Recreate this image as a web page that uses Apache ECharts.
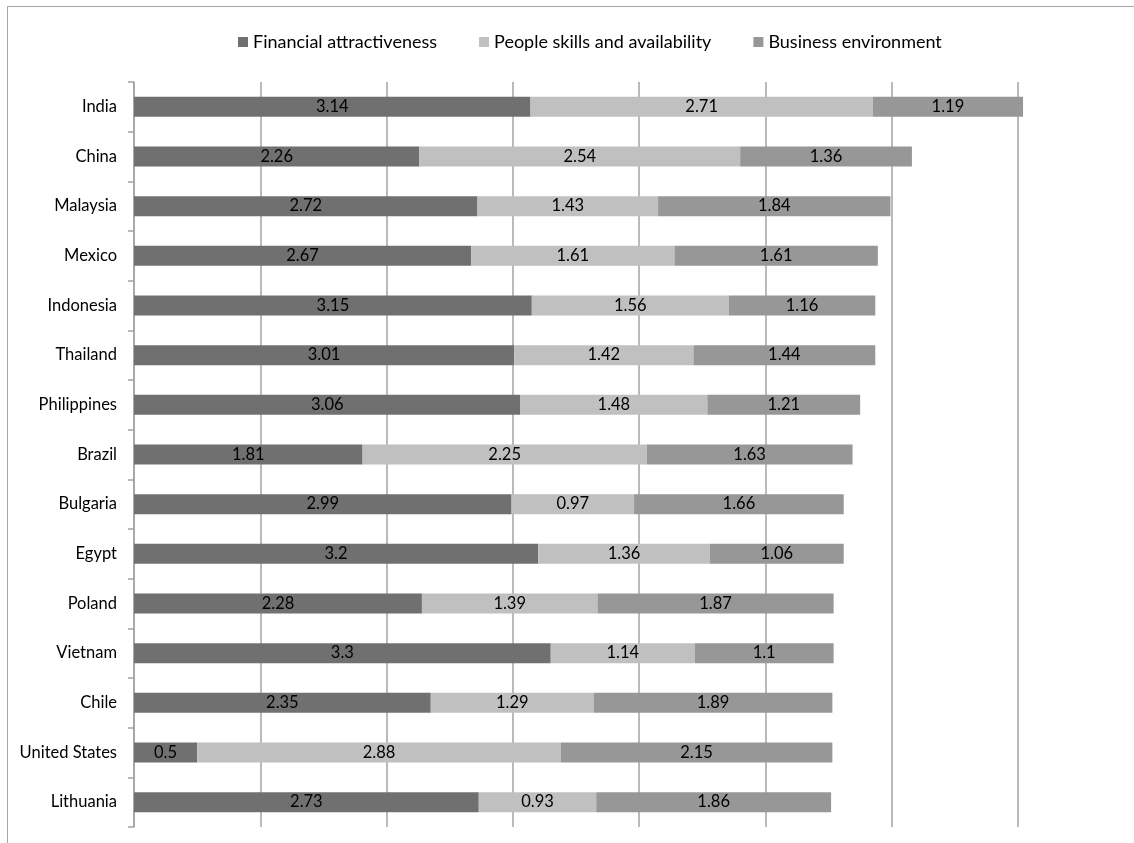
<!DOCTYPE html>
<html>
<head>
<meta charset="utf-8">
<script src="https://cdn.jsdelivr.net/npm/echarts@6/dist/echarts.min.js"></script>
<style>
  html,body{margin:0;padding:0;background:#fff;overflow:hidden;}
  #frame{position:absolute;left:7px;top:6px;width:1200px;height:900px;border-top:1px solid #a6a6a6;border-left:1px solid #a6a6a6;}
  #chart{position:absolute;left:0;top:0;width:1134px;height:843px;}
</style>
</head>
<body>
<div id="frame"></div>
<div id="chart"></div>
<script>
/* ---------- data ---------- */
const countries = ['India','China','Malaysia','Mexico','Indonesia','Thailand','Philippines','Brazil','Bulgaria','Egypt','Poland','Vietnam','Chile','United States','Lithuania'];
const financial = [3.14,2.26,2.72,2.67,3.15,3.01,3.06,1.81,2.99,3.2,2.28,3.3,2.35,0.5,2.73];
const people    = [2.71,2.54,1.43,1.61,1.56,1.42,1.48,2.25,0.97,1.36,1.39,1.14,1.29,2.88,0.93];
const business  = [1.19,1.36,1.84,1.61,1.16,1.44,1.21,1.63,1.66,1.06,1.87,1.1,1.89,2.15,1.86];
const seriesNames = ['Financial attractiveness','People skills and availability','Business environment'];
const colors = ['#707070','#c0c0c0','#979797'];

/* ---------- chart ---------- */
const font = 'Lato, "Open Sans", sans-serif';
function bar(name,data,color){
  return {
    name:name, type:'bar', stack:'total', data:data, barWidth:20, clip:false,
    itemStyle:{color:color},
    label:{show:true, position:'inside', color:'#000', fontSize:16.5, fontFamily:font},
    emphasis:{disabled:true}
  };
}
const chart = echarts.init(document.getElementById('chart'));
chart.setOption({
  animation:false,
  textStyle:{fontFamily:font},
  legend:{
    top:28, left:233, itemWidth:10, itemHeight:10, itemGap:42,
    icon:'rect',
    textStyle:{fontSize:18, color:'#000', fontFamily:font},
    data:seriesNames
  },
  grid:{left:134, right:116, top:82, bottom:16, containLabel:false},
  xAxis:{
    type:'value', min:0, max:7, interval:1,
    axisLabel:{show:false}, axisTick:{show:false}, axisLine:{show:false},
    splitLine:{show:true, lineStyle:{color:'#a3a3a3', width:1.5}}
  },
  yAxis:{
    type:'category', inverse:true, data:countries,
    axisLine:{show:true, lineStyle:{color:'#a3a3a3', width:1.5}},
    axisTick:{show:true, length:6, lineStyle:{color:'#a3a3a3', width:1.5}},
    axisLabel:{color:'#000', fontSize:16.5, margin:17, fontFamily:font}
  },
  series:[
    bar(seriesNames[0],financial,colors[0]),
    bar(seriesNames[1],people,colors[1]),
    bar(seriesNames[2],business,colors[2])
  ]
});
</script>
</body>
</html>
